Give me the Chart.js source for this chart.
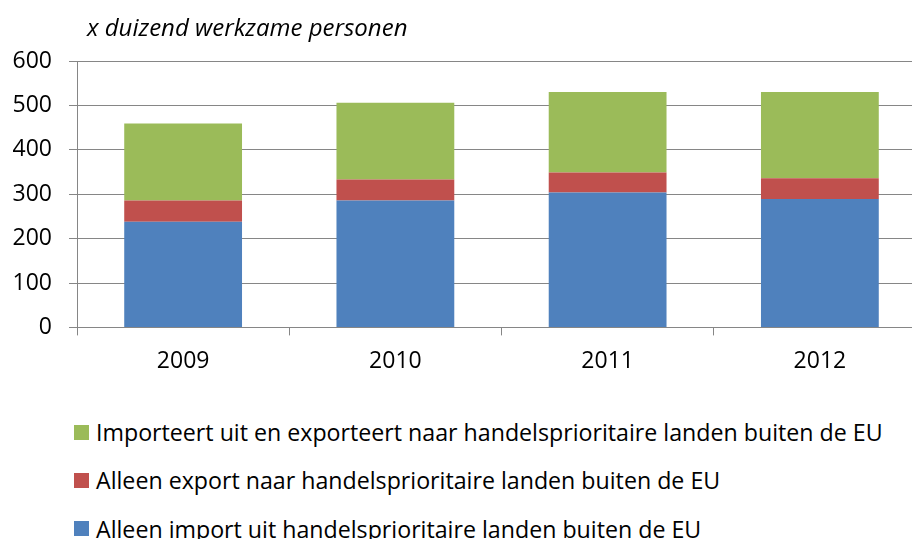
<!DOCTYPE html>
<html>
<head>
<meta charset="utf-8">
<script src="https://cdn.jsdelivr.net/npm/chart.js@4/dist/chart.umd.min.js"></script>
<style>
    html, body{
        margin:0;
        padding:0;
        background:#ffffff;
    }
    #wrap{
        position:relative;
        width:912px;
        height:539px;
        overflow:hidden;
        font-family:"Open Sans", Lato, sans-serif;
        color:#000;
    }
    #chartTitle{
        position:absolute;
        left:87px;
        top:12px;
        font-size:24px;
        font-style:italic;
        line-height:30px;
        white-space:nowrap;
    }
    #chartBox{
        position:absolute;
        left:0;
        top:0;
    }
    #legend{
        position:absolute;
        left:74px;
        top:417px;
    }
    .item{
        display:flex;
        align-items:center;
        height:30px;
        margin-bottom:18.3px;
        font-size:23.2px;
        white-space:nowrap;
    }
    .box{
        width:15px;
        height:15px;
        margin-right:7px;
    }
</style>
</head>
<body>
<div id="wrap">
    <div id="chartBox"><canvas id="myChart" width="926" height="392"></canvas></div>
    <div id="chartTitle">x duizend werkzame personen</div>
    <div id="legend"></div>
</div>

<script>
// Data
const years = ["2009","2010","2011","2012"];

const importOnly = [238,286,304,289];
const exportOnly = [48,47,45,47];
const importExport = [173,173,181,194];

const seriesNames = [
    "Alleen import uit handelsprioritaire landen buiten de EU",
    "Alleen export naar handelsprioritaire landen buiten de EU",
    "Importeert uit en exporteert naar handelsprioritaire landen buiten de EU"
];

const colors = ["#4F81BD","#C0504D","#9BBB59"];

const gridColor = "#868686";

const ctx = document.getElementById("myChart");

const chart = new Chart(ctx,{

    type:"bar",

    data:{
        labels:years,
        datasets:[
            { label:seriesNames[0], data:importOnly, backgroundColor:colors[0] },
            { label:seriesNames[1], data:exportOnly, backgroundColor:colors[1] },
            { label:seriesNames[2], data:importExport, backgroundColor:colors[2] }
        ]
    },

    options:{
        responsive:false,
        animation:false,
        layout:{
            padding:{ top:61, right:0, bottom:5, left:0 }
        },
        datasets:{
            bar:{
                barPercentage:0.555,
                categoryPercentage:1
            }
        },
        plugins:{
            legend:{ display:false },
            title:{ display:false },
            tooltip:{ enabled:false }
        },
        scales:{
            x:{
                stacked:true,
                offset:true,
                grid:{
                    offset:true,
                    drawOnChartArea:false,
                    color:gridColor,
                    tickLength:8
                },
                border:{ color:gridColor, width:1 },
                ticks:{
                    color:"#000",
                    padding:12,
                    font:{ family:"Open Sans", size:23 }
                }
            },
            y:{
                stacked:true,
                min:0,
                max:600,
                afterFit:function(scale){
                    scale.width = 77;
                },
                grid:{
                    color:gridColor,
                    tickLength:8
                },
                border:{ color:gridColor, width:1 },
                ticks:{
                    stepSize:100,
                    color:"#000",
                    padding:17,
                    font:{ family:"Open Sans", size:23 }
                }
            }
        }
    }

});

// Legenda (omgekeerde volgorde, zoals in het origineel)
const legend = document.getElementById("legend");

chart.data.datasets.slice().reverse().forEach(ds=>{

    const row = document.createElement("div");
    row.className = "item";

    const box = document.createElement("span");
    box.className = "box";
    box.style.background = ds.backgroundColor;

    const txt = document.createElement("span");
    txt.textContent = ds.label;

    row.appendChild(box);
    row.appendChild(txt);
    legend.appendChild(row);

});
</script>
</body>
</html>
